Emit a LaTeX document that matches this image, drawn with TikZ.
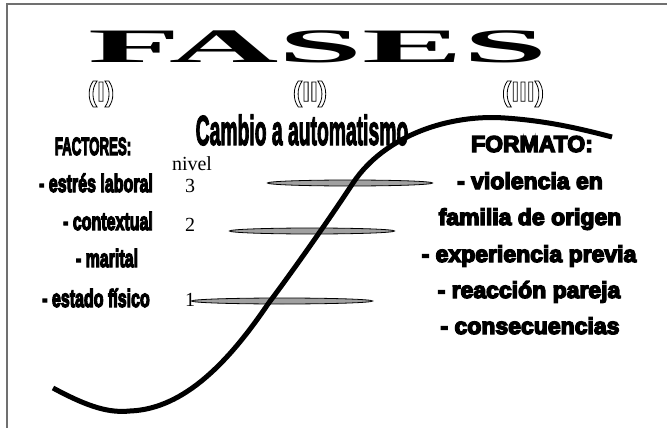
\documentclass[tikz,border=0pt]{standalone}
\usepackage{fontspec}
\setmainfont{Liberation Serif}
\setsansfont{Liberation Sans}
\usetikzlibrary{shapes.geometric}
\definecolor{framegray}{HTML}{707070}
\definecolor{barfill}{HTML}{A0A0A0}

% outlined and heavy text (text render mode)
\newcommand{\outlined}[1]{\special{pdf:literal direct 0.8 w 1 Tr}#1\special{pdf:literal direct 0 Tr}}
\newcommand{\heavy}[1]{\special{pdf:literal direct 1.4 w 2 Tr}#1\special{pdf:literal direct 0 Tr}}

\begin{document}
\begin{tikzpicture}[
    x=1pt, y=-1pt,
    phase/.style={font=\sffamily\bfseries\fontsize{28}{30}\selectfont, anchor=center},
    factor/.style={font=\sffamily\bfseries\fontsize{25}{27}\selectfont, anchor=base, inner sep=0pt},
    formato/.style={font=\sffamily\bfseries\fontsize{23}{25}\selectfont, anchor=base, inner sep=0pt},
    numlabel/.style={font=\fontsize{20}{22}\selectfont, anchor=base, inner sep=0pt},
    levelbar/.style={draw=black, line width=0.8pt, fill=barfill, ellipse, minimum height=6pt, inner sep=0pt}
]
\useasboundingbox (0,0) rectangle (667,428);

% frame
\draw[framegray, line width=1.5pt] (7,428) -- (7,4) -- (667,4);

% title
\node[font=\bfseries\fontsize{48}{50}\selectfont, anchor=base, inner sep=0pt] (title) at (318,63) {\scalebox{3.15}[1]{FASES}};

% phases
\node[phase] (phaseone) at (101,94) {\outlined{(I)}};
\node[phase] (phasetwo) at (310,94) {\outlined{(II)}};
\node[phase] (phasethree) at (523,94) {\outlined{(III)}};

\node[font=\sffamily\bfseries\fontsize{42}{44}\selectfont, anchor=base, inner sep=0pt] (cambio) at (302,145) {\heavy{\scalebox{0.46}[1]{Cambio a automatismo}}};

% levels
\node[levelbar, minimum width=165pt] (levelthree) at (350,183) {};
\node[levelbar, minimum width=165pt] (leveltwo) at (312,231) {};
\node[levelbar, minimum width=181pt] (levelone) at (282,301) {};

% curve
\draw[line width=5pt] (53,388) .. controls (90,408) and (110,413) .. (130,411)
    .. controls (185,409) and (230,360) .. (268,304)
    .. controls (295,268) and (330,218) .. (353,183)
    .. controls (385,135) and (450,114) .. (505,118)
    .. controls (550,121) and (585,130) .. (612,137);

% factores
\node[factor] (factores) at (93,155) {\heavy{\scalebox{0.53}[1]{FACTORES:}}};
\node[factor] (laboral) at (96,192) {\heavy{\scalebox{0.64}[1]{- estrés laboral}}};
\node[factor] (contextual) at (108,230) {\heavy{\scalebox{0.64}[1]{- contextual}}};
\node[factor] (marital) at (107,267) {\heavy{\scalebox{0.64}[1]{- marital}}};
\node[factor] (fisico) at (96,307) {\heavy{\scalebox{0.64}[1]{- estado físico}}};

\node[numlabel] (nivel) at (192,170) {nivel};
\node[numlabel] (numthree) at (190,192) {3};
\node[numlabel] (numtwo) at (190,231) {2};
\node[numlabel] (numone) at (190,306) {1};

% formato
\node[formato] (formatohead) at (532,152) {\heavy{FORMATO:}};
\node[formato] (violencia) at (530,189) {\heavy{- violencia en}};
\node[formato] (familia) at (530,225) {\heavy{familia de origen}};
\node[formato] (experiencia) at (529,262) {\heavy{- experiencia previa}};
\node[formato] (reaccion) at (529,298) {\heavy{- reacción pareja}};
\node[formato] (consecuencias) at (530,334) {\heavy{- consecuencias}};

\end{tikzpicture}
\end{document}
